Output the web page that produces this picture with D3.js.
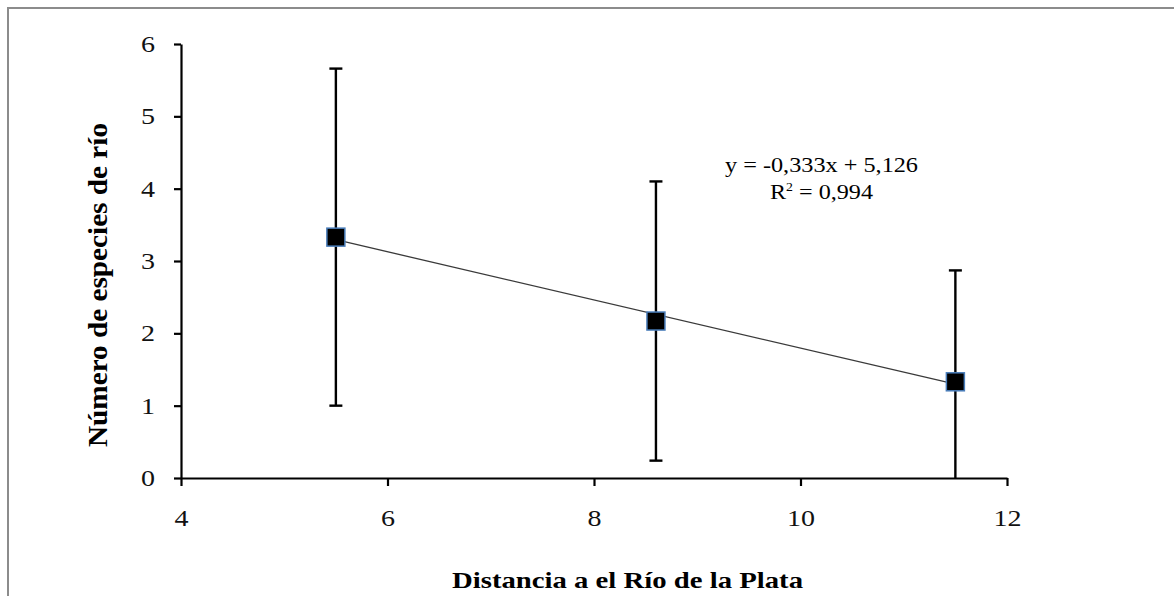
<!DOCTYPE html>
<html>
<head>
<meta charset="utf-8">
<script src="https://cdn.jsdelivr.net/npm/d3@7"></script>
<style>
  html, body { margin: 0; padding: 0; background: #fff; }
  svg { display: block; }
</style>
</head>
<body>
<svg id="chart" width="1174" height="596"></svg>
<script>
// Distance to Río de la Plata vs. number of river species (mean ± SD)
const distances = [5.5, 8.6, 11.5];
const meanSpecies = [3.33, 2.17, 1.33];
const sdSpecies = [2.33, 1.93, 1.54];
const xTicks = [4, 6, 8, 10, 12];
const yTicks = [0, 1, 2, 3, 4, 5, 6];
const trendSlope = -0.333;
const trendIntercept = 5.126;
const trendR2 = 0.994;

const svg = d3.select("#chart");
const W = 1174, H = 596;
const plot = { left: 181, right: 1007, top: 44, bottom: 478 };
const serif = "'Liberation Serif', 'Times New Roman', serif";
const stretch = 1.22; // wide text rendering

// Outer chart frame
svg.append("rect")
  .attr("x", 8).attr("y", 8)
  .attr("width", W + 20).attr("height", H + 20)
  .attr("fill", "#fff").attr("stroke", "#8c8c8c").attr("stroke-width", 2);

const x = d3.scaleLinear().domain([4, 12]).range([plot.left, plot.right]);
const y = d3.scaleLinear().domain([0, 6]).range([plot.bottom, plot.top]);

// Axes
const fmt = d3.format("d");
const yAxis = svg.append("g")
  .attr("transform", `translate(${plot.left},0)`)
  .call(d3.axisLeft(y).tickValues(yTicks).tickFormat(fmt).tickSize(7).tickSizeOuter(0).tickPadding(19));
const xAxis = svg.append("g")
  .attr("transform", `translate(0,${plot.bottom})`)
  .call(d3.axisBottom(x).tickValues(xTicks).tickFormat(fmt).tickSize(8).tickSizeOuter(0).tickPadding(24));

[yAxis, xAxis].forEach(g => {
  g.attr("font-family", serif).attr("font-size", 23);
  g.select(".domain").attr("stroke", "#000").attr("stroke-width", 2.2);
  g.selectAll(".tick line").attr("stroke", "#000").attr("stroke-width", 2.2);
  g.selectAll(".tick text").attr("fill", "#111")
    .each(function () {
      const t = d3.select(this);
      const tx = +t.attr("x") || 0;
      t.attr("x", tx / stretch).attr("transform", `scale(${stretch},1)`);
    });
});

// Clip marks to the plotting area
svg.append("clipPath").attr("id", "plotClip")
  .append("rect")
  .attr("x", plot.left).attr("y", plot.top - 40)
  .attr("width", plot.right - plot.left).attr("height", plot.bottom - plot.top + 40);

const marks = svg.append("g").attr("clip-path", "url(#plotClip)");

// Linear trend line across the observed range
const trendPts = d3.extent(distances).map(d => [d, trendSlope * d + trendIntercept]);
marks.append("path")
  .attr("d", d3.line().x(d => x(d[0])).y(d => y(d[1]))(trendPts))
  .attr("fill", "none").attr("stroke", "#3a3a3a").attr("stroke-width", 1.3);

// Error bars
const data = distances.map((d, i) => ({ x: d, m: meanSpecies[i], sd: sdSpecies[i] }));
const capW = 13;
data.forEach(d => {
  const lo = Math.max(0, d.m - d.sd), hi = d.m + d.sd;
  marks.append("line")
    .attr("x1", x(d.x)).attr("x2", x(d.x))
    .attr("y1", y(lo)).attr("y2", y(hi))
    .attr("stroke", "#000").attr("stroke-width", 2.4);
  marks.append("line")
    .attr("x1", x(d.x) - capW / 2).attr("x2", x(d.x) + capW / 2)
    .attr("y1", y(hi)).attr("y2", y(hi))
    .attr("stroke", "#000").attr("stroke-width", 2.4);
  if (d.m - d.sd > 0) {
    marks.append("line")
      .attr("x1", x(d.x) - capW / 2).attr("x2", x(d.x) + capW / 2)
      .attr("y1", y(lo)).attr("y2", y(lo))
      .attr("stroke", "#000").attr("stroke-width", 2.4);
  }
});

// Square markers
const sz = 18;
svg.append("g").selectAll("rect")
  .data(data).join("rect")
  .attr("x", d => x(d.x) - sz / 2)
  .attr("y", d => y(d.m) - sz / 2)
  .attr("width", sz).attr("height", sz)
  .attr("fill", "#000").attr("stroke", "#4a7ebb").attr("stroke-width", 1.5);

// Regression equation
const comma = v => d3.format(".3f")(v).replace(".", ",").replace("\u2212", "-");
svg.append("text")
  .attr("x", 725).attr("y", 172)
  .attr("font-family", serif).attr("font-size", 21).attr("fill", "#000")
  .attr("textLength", 193).attr("lengthAdjust", "spacingAndGlyphs")
  .text(`y = ${comma(trendSlope)}x + ${comma(trendIntercept)}`);
const r2 = svg.append("text")
  .attr("x", 770).attr("y", 199)
  .attr("font-family", serif).attr("font-size", 21).attr("fill", "#000")
  .attr("textLength", 103).attr("lengthAdjust", "spacingAndGlyphs");
r2.append("tspan").text("R");
r2.append("tspan").attr("font-size", 12).attr("dy", -8).text("2");
r2.append("tspan").attr("dy", 8).text(` = ${comma(trendR2)}`);

// Axis titles
svg.append("text")
  .attr("x", 452).attr("y", 588)
  .attr("font-family", serif).attr("font-weight", "bold").attr("font-size", 23)
  .attr("textLength", 351).attr("lengthAdjust", "spacingAndGlyphs")
  .text("Distancia a el Río de la Plata");

svg.append("text")
  .attr("transform", `translate(107,447) rotate(-90) scale(1,${stretch})`)
  .attr("x", 0).attr("y", 0)
  .attr("font-family", serif).attr("font-weight", "bold").attr("font-size", 23)
  .attr("textLength", 324).attr("lengthAdjust", "spacingAndGlyphs")
  .text("Número de especies de río");
</script>
</body>
</html>
